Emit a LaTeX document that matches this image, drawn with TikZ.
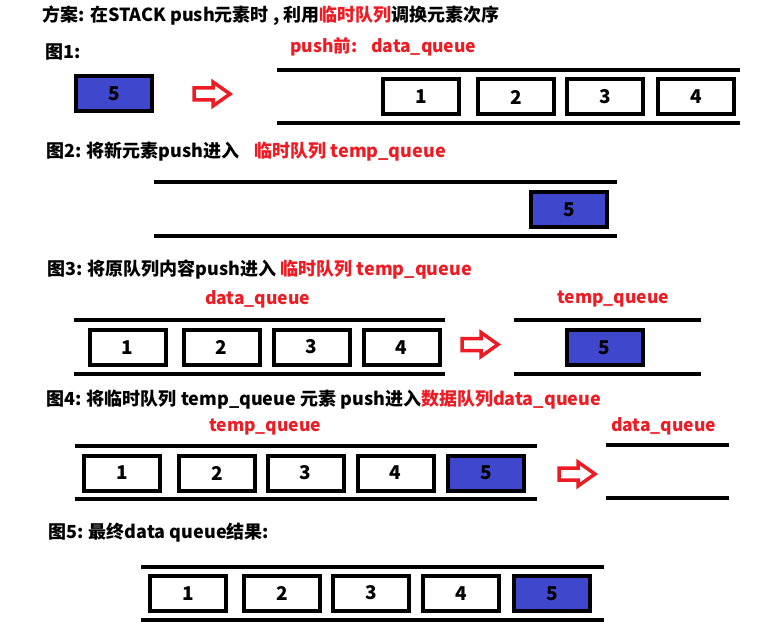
\documentclass[tikz,border=0pt]{standalone}
\usepackage{fontspec}
\newfontfamily\cjk{Noto Sans CJK SC}
\definecolor{qblue}{RGB}{63,72,204}
\definecolor{qred}{RGB}{237,28,36}
\tikzset{
  qbox/.style={draw=black, line width=4pt, fill=white, minimum width=76pt, minimum height=35pt, inner sep=0pt, font=\cjk\bfseries\fontsize{19}{19}\selectfont},
  bluebox/.style={qbox, fill=qblue},
  qline/.style={line width=4pt, black},
  ttl/.style={anchor=west, inner sep=0pt, font=\cjk\bfseries\fontsize{18}{18}\selectfont, text=black},
  rlab/.style={ttl, text=qred, font=\cjk\bfseries\fontsize{17.5}{17.5}\selectfont},
  barrow/.style={draw=qred, line width=3.5pt, fill=white, miter limit=10}
}
\newcommand{\blockarrow}[2]{%
  \draw[barrow] (#1,#2-6) -- ++(19,0) -- ++(0,-6) -- ++(17,12) -- ++(-17,12) -- ++(0,-6) -- ++(-19,0) -- cycle;}
\newcommand{\qline}[3]{%
  \draw[qline] (#1,#3) -- (#2,#3);}
\begin{document}
\begin{tikzpicture}[x=1pt, y=-1pt]
\useasboundingbox (0,0) rectangle (783,628);
% title
\node[ttl] (title) at (42,16) {方案: 在STACK push元素时 , 利用\textcolor{qred}{临时队列}调换元素次序};
% Fig 1
\node[ttl] (f1) at (45,52) {图1:};
\node[rlab] (f1lab) at (290,47) {push前:\hspace{14pt}data\_queue};
\node[bluebox] (f1b5) at (114,94) {5};
\blockarrow{194}{94}
\qline{277}{740}{70}
\qline{277}{740}{123}
\node[qbox] (f1b1) at (421,97) {\raisebox{-2pt}{1}};
\node[qbox] (f1b2) at (516,97) {2};
\node[qbox] (f1b3) at (605,97) {\raisebox{2pt}{3}};
\node[qbox] (f1b4) at (696,97) {\raisebox{-2pt}{4}};
% Fig 2
\node[ttl] (f2) at (46,152) {图2: 将新元素push进入\hspace{15pt}\textcolor{qred}{临时队列 temp\_queue}};
\qline{154}{617}{182}
\qline{154}{617}{236}
\node[bluebox] (f2b5) at (569,209.5) {5};
% Fig 3
\node[ttl] (f3) at (47,270) {图3: 将原队列内容push进入 \textcolor{qred}{临时队列 temp\_queue}};
\node[rlab] (f3l) at (205,299) {data\_queue};
\node[rlab] (f3r) at (557,299) {temp\_queue};
\qline{74}{445}{320}
\qline{74}{445}{374}
\qline{514}{701}{320}
\qline{514}{701}{374}
\node[qbox] (f3b1) at (127.5,347.5) {\raisebox{-2pt}{1}};
\node[qbox] (f3b2) at (221.5,347.5) {2};
\node[qbox] (f3b3) at (311.5,347.5) {\raisebox{2pt}{3}};
\node[qbox] (f3b4) at (401.5,347.5) {\raisebox{-2pt}{4}};
\blockarrow{462}{344.5}
\node[bluebox] (f3b5) at (604.5,347.5) {5};
% Fig 4
\node[ttl] (f4) at (46,400) {图4: 将临时队列 temp\_queue 元素 push进入\textcolor{qred}{数据队列data\_queue}};
\node[rlab] (f4l) at (209,427) {temp\_queue};
\node[rlab] (f4r) at (611,426) {data\_queue};
\qline{75}{537}{446}
\qline{75}{537}{499}
\qline{606}{729}{445}
\qline{606}{729}{498}
\node[qbox] (f4b1) at (122,473) {\raisebox{-2pt}{1}};
\node[qbox] (f4b2) at (217,473) {2};
\node[qbox] (f4b3) at (305.5,473) {\raisebox{2pt}{3}};
\node[qbox] (f4b4) at (395.5,473) {\raisebox{-2pt}{4}};
\node[bluebox] (f4b5) at (486,473) {5};
\blockarrow{559}{474}
% Fig 5
\node[ttl] (f5) at (48,533) {图5: 最终data queue结果:};
\qline{141}{604}{567}
\qline{141}{604}{620}
\node[qbox] (f5b1) at (188,593.5) {\raisebox{-2pt}{1}};
\node[qbox] (f5b2) at (282,593.5) {2};
\node[qbox] (f5b3) at (371,593.5) {\raisebox{2pt}{3}};
\node[qbox] (f5b4) at (461,593.5) {\raisebox{-2pt}{4}};
\node[bluebox] (f5b5) at (552,593.5) {5};
\end{tikzpicture}
\end{document}
